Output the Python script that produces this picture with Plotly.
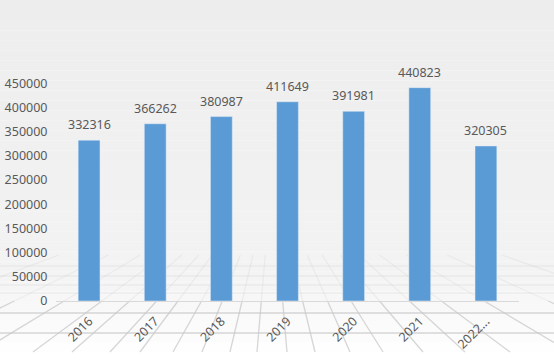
import plotly.graph_objects as go

categories = ["2016", "2017", "2018", "2019", "2020", "2021", "2022..."]
values = [332316, 366262, 380987, 411649, 391981, 440823, 320305]
y_ticks = [0, 50000, 100000, 150000, 200000, 250000, 300000, 350000, 400000, 450000]

W, H = 554, 362
FONT = "Noto Sans"
TXT = "#595959"

fig = go.Figure()
fig.add_trace(go.Bar(x=list(range(len(categories))), y=values, marker_color="#5b9bd5",
                     width=0.33, hovertext=categories, hoverinfo="text+y"))

# data labels
for i, v in enumerate(values):
    fig.add_annotation(x=i, y=v, text=str(v), showarrow=False, yanchor="bottom",
                       yshift=5, font=dict(family=FONT, size=12.5, color=TXT))

ml, mr, mt, mb = 56, 35, 59, 61
pw, ph = W - ml - mr, H - mt - mb
def px(x):
    return (x - ml) / pw
def py(y):
    return (H - mb - y) / ph
def mix(a, b, t):
    return tuple(round(a[i] + (b[i] - a[i]) * t) for i in range(3))

shapes = []
top, mid, bot = (237, 237, 237), (243, 243, 243), (255, 255, 255)
n = 36
for k in range(n):
    y0 = k / n * H
    y1 = (k + 1) / n * H
    yc = (y0 + y1) / 2
    if yc < 270:
        col = mix(top, mid, yc / 270)
    else:
        col = mix(mid, bot, min(1, (yc - 270) / 85))
    shapes.append(dict(type="rect", xref="paper", yref="paper", layer="below",
                       x0=px(0), x1=px(W), y0=py(y1), y1=py(y0), line_width=0,
                       fillcolor="rgb(%d,%d,%d)" % col))

# perspective floor grid (decoration)
faint = "rgba(200,200,200,0.22)"
strong = "rgba(200,200,200,0.75)"
for yy in [266, 276, 285, 293]:
    shapes.append(dict(type="line", xref="paper", yref="paper", layer="below",
                       x0=px(0), x1=px(W), y0=py(yy), y1=py(yy),
                       line=dict(color=faint, width=1.5)))
for yy in [313, 333]:
    shapes.append(dict(type="line", xref="paper", yref="paper", layer="below",
                       x0=px(0), x1=px(W), y0=py(yy), y1=py(yy),
                       line=dict(color=strong, width=1.5)))
vx, vy = 272, 175
ybot, ymid, ytop = 352, 301, 255
def xat(xb, y):
    return vx + (xb - vx) * (y - vy) / (ybot - vy)
for xb in [-200, -90, -20, 33, 72, 110, 140, 173, 202, 230, 257, 287, 315, 350, 383,
           423, 465, 510, 570, 660, 780]:
    shapes.append(dict(type="line", xref="paper", yref="paper", layer="below",
                       x0=px(xb), x1=px(xat(xb, ymid)), y0=py(ybot), y1=py(ymid),
                       line=dict(color=strong, width=1.3)))
    shapes.append(dict(type="line", xref="paper", yref="paper", layer="below",
                       x0=px(xat(xb, ymid)), x1=px(xat(xb, ytop)), y0=py(ymid), y1=py(ytop),
                       line=dict(color=faint, width=1.3)))

fig.update_layout(
    width=W, height=H,
    margin=dict(l=ml, r=mr, t=mt, b=mb, autoexpand=False),
    paper_bgcolor="#ffffff", plot_bgcolor="rgba(0,0,0,0)",
    showlegend=False,
    font=dict(family=FONT, size=12.5, color=TXT),
    shapes=shapes,
)
fig.update_xaxes(range=[-0.5, 6.5], tickmode="array",
                 tickvals=list(range(len(categories))), ticktext=categories,
                 tickangle=-45, automargin=False,
                 showline=True, linecolor="#d9d9d9", linewidth=1,
                 showgrid=False, zeroline=False,
                 ticks="outside", ticklen=7, tickcolor="rgba(0,0,0,0)",
                 tickfont=dict(family=FONT, size=12.5, color=TXT))
fig.update_yaxes(range=[0, 500000], tickvals=y_ticks, ticktext=[str(v) for v in y_ticks],
                 automargin=False,
                 showgrid=False, zeroline=False, showline=False,
                 ticks="outside", ticklen=5, tickcolor="rgba(0,0,0,0)",
                 tickfont=dict(family=FONT, size=12.5, color=TXT))

fig.write_html("out.html", config={"displayModeBar": False},
               post_script="document.body.style.margin='0';")
